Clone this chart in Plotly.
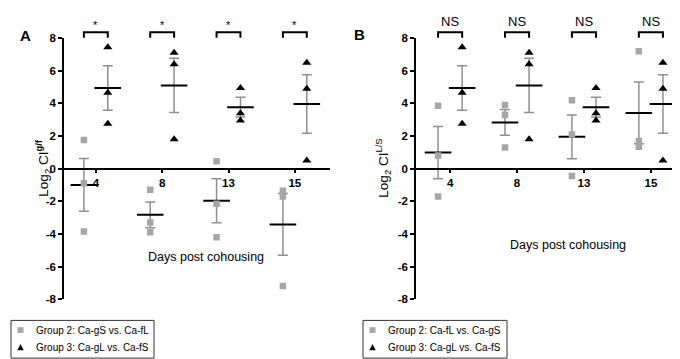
import numpy as np
import plotly.graph_objects as go

days = ["4", "8", "13", "15"]

# Panel A
a_group2 = [[1.75, -0.9, -3.85], [-1.3, -3.3, -3.9], [0.45, -2.15, -4.2], [-1.35, -1.7, -7.2]]
a_group3 = [[7.45, 4.65, 2.75], [7.1, 6.4, 1.8], [4.95, 3.4, 2.95], [6.5, 4.9, 0.5]]
# Panel B
b_group2 = [[3.85, 0.8, -1.7], [3.9, 3.3, 1.3], [4.2, 2.1, -0.45], [7.2, 1.7, 1.35]]
b_group3 = [[7.45, 4.65, 2.75], [7.1, 6.4, 1.8], [4.95, 3.4, 2.95], [6.5, 4.9, 0.5]]

a_labels = ["*", "*", "*", "*"]
b_labels = ["NS", "NS", "NS", "NS"]

a_names = ["Group 2: Ca-gS vs. Ca-fL", "Group 3: Ca-gL vs. Ca-fS"]
b_names = ["Group 2: Ca-fL vs. Ca-gS", "Group 3: Ca-gL vs. Ca-fS"]

y_ticks = [-8, -6, -4, -2, 0, 2, 4, 6, 8]
y_ticktext = ["-8", "-6", "-4", "-2", "0", "2", "4", "6", "8"]

W, H = 680, 359
FONT = "Liberation Sans, Arial, sans-serif"
SQ_COLOR = "#a6a6a6"
EB_COLOR = "#8f8f8f"
OFF = 0.18

fig = go.Figure()

def add_panel(g2, g3, names, xa, ya):
    for gi, (grp, off, sym, col, size) in enumerate([
        (g2, -OFF, "square", SQ_COLOR, 6.5),
        (g3, OFF, "triangle-up", "black", 8),
    ]):
        xs, ys = [], []
        for i, vals in enumerate(grp):
            xs += [i + off] * len(vals)
            ys += vals
        means = [float(np.mean(v)) for v in grp]
        sems = [float(np.std(v, ddof=1) / np.sqrt(len(v))) for v in grp]
        xm = [i + off for i in range(len(grp))]
        fig.add_trace(go.Scatter(
            x=xm, y=means, mode="markers", xaxis=xa, yaxis=ya, showlegend=False,
            marker=dict(symbol="line-ew", size=19, color="black",
                        line=dict(color="black", width=2)),
            error_y=dict(type="data", array=sems, color=EB_COLOR, thickness=1.5, width=5),
            hoverinfo="skip",
        ))
        fig.add_trace(go.Scatter(
            x=xs, y=ys, mode="markers", xaxis=xa, yaxis=ya, name=names[gi],
            showlegend=False,
            marker=dict(symbol=sym, size=size, color=col, line=dict(width=0)),
        ))

add_panel(a_group2, a_group3, a_names, "x", "y")
add_panel(b_group2, b_group3, b_names, "x2", "y2")

ydom = [1 - 295 / H, 1 - 25 / H]
ymid = (ydom[0] + ydom[1]) / 2

axis_common = dict(showgrid=False, zeroline=False, showline=True, linecolor="black",
                   linewidth=1.5, ticks="outside", ticklen=4, tickwidth=1.5,
                   tickcolor="black",
                   tickfont=dict(family=FONT, size=11.5, color="black", weight="bold"))

fig.update_layout(
    width=W, height=H, margin=dict(l=0, r=0, t=0, b=0),
    paper_bgcolor="white", plot_bgcolor="white",
    font=dict(family=FONT, color="black"),
    showlegend=False,
    xaxis=dict(domain=[56 / W, 322 / W], range=[-0.48, 3.53], tickvals=[0, 1, 2, 3],
               ticktext=days, anchor="free", position=ymid, **axis_common),
    yaxis=dict(domain=ydom, range=[-8, 8], tickvals=y_ticks, ticktext=y_ticktext,
               anchor="x", **axis_common),
    xaxis2=dict(domain=[408 / W, 673 / W], range=[-0.51, 3.45], tickvals=[0, 1, 2, 3],
                ticktext=days, anchor="free", position=ymid, **axis_common),
    yaxis2=dict(domain=ydom, range=[-8, 8], tickvals=y_ticks, ticktext=y_ticktext,
                anchor="x2", **axis_common),
)

def px(x):
    return x / W

def py(y):
    return 1 - y / H

shapes = []
annotations = []
ytop = py(19)
ybot = py(24.5)
for xa, labels, lab_y, lab_size in [("x", a_labels, py(11), 11), ("x2", b_labels, py(8), 13)]:
    for i, lab in enumerate(labels):
        x0, x1 = i - OFF, i + OFF
        shapes.append(dict(type="path", xref=xa, yref="paper",
                           path=f"M {x0},{ybot} L {x0},{ytop} L {x1},{ytop} L {x1},{ybot}",
                           line=dict(color="black", width=2)))
        annotations.append(dict(text=lab, x=i, y=lab_y, xref=xa, yref="paper",
                                showarrow=False, yanchor="middle",
                                font=dict(family=FONT, size=lab_size, color="black")))

# manual legends
for left, right, names in [(3, 146, a_names), (355, 499, b_names)]:
    shapes.append(dict(type="rect", xref="paper", yref="paper",
                       x0=px(left), x1=px(right), y0=py(356), y1=py(317),
                       line=dict(color="#333333", width=1), fillcolor="white", layer="below"))
    cx = left + 9.5
    shapes.append(dict(type="rect", xref="paper", yref="paper",
                       x0=px(cx - 3), x1=px(cx + 3), y0=py(330), y1=py(324),
                       line=dict(width=0), fillcolor=SQ_COLOR))
    shapes.append(dict(type="path", xref="paper", yref="paper",
                       path=f"M {px(cx - 3.2)},{py(348)} L {px(cx + 3.2)},{py(348)} L {px(cx)},{py(341.5)} Z",
                       line=dict(width=0), fillcolor="black"))
    for name, yy in zip(names, [327, 345]):
        annotations.append(dict(text=name, x=px(left + 23), y=py(yy), xref="paper",
                                yref="paper", xanchor="left", yanchor="middle",
                                showarrow=False,
                                font=dict(family=FONT, size=10, color="black")))

annotations += [
    dict(text="Days post cohousing", x=1.66, y=-5.44, xref="x", yref="y", showarrow=False,
         font=dict(family=FONT, size=12.5, color="black")),
    dict(text="Days post cohousing", x=1.76, y=-4.67, xref="x2", yref="y2", showarrow=False,
         font=dict(family=FONT, size=12.5, color="black")),
    dict(text="Log<sub>2</sub> CI<sup><b>g/f</b></sup>", x=px(23), y=ymid, xref="paper",
         yref="paper", textangle=-90, showarrow=False,
         font=dict(family=FONT, size=13.5, color="black")),
    dict(text="Log<sub>2</sub> CI<sup>L/S</sup>", x=px(375), y=ymid, xref="paper",
         yref="paper", textangle=-90, showarrow=False,
         font=dict(family=FONT, size=13.5, color="black")),
    dict(text="<b>A</b>", x=px(10), y=py(11), xref="paper", yref="paper",
         showarrow=False, font=dict(family=FONT, size=15, color="black")),
    dict(text="<b>B</b>", x=px(351), y=py(10), xref="paper", yref="paper",
         showarrow=False, font=dict(family=FONT, size=15, color="black")),
]

fig.update_layout(shapes=shapes, annotations=annotations)
fig.write_html("out.html")
